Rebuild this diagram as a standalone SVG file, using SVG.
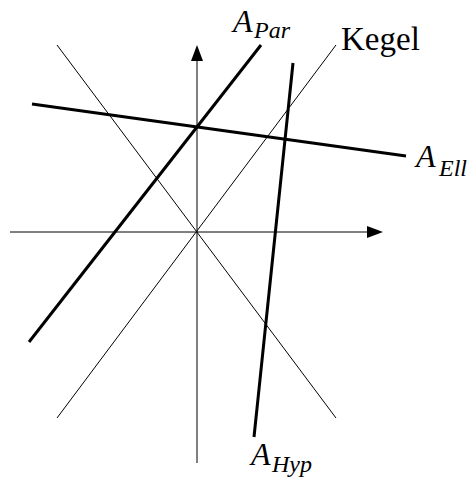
<svg xmlns="http://www.w3.org/2000/svg" width="472" height="479" viewBox="0 0 472 479">
<style>
.thin{stroke:#000;stroke-width:1;fill:none}
.thick{stroke:#000;stroke-width:3;fill:none}
.lbl{font-family:"Liberation Serif","Times New Roman",serif;fill:#000}
.it{font-style:italic}
</style>
<defs>
<marker id="arr" viewBox="0 0 16 12" refX="0" refY="6" markerWidth="16" markerHeight="12" markerUnits="userSpaceOnUse" orient="auto">
<path d="M0,0 L16,6 L0,12 Z" fill="#000"/>
</marker>
</defs>
<rect width="472" height="479" fill="#fff"/>
<g id="connectors">
<line id="x-axis" class="thin" x1="10" y1="232" x2="367" y2="232" marker-end="url(#arr)"/>
<line id="y-axis" class="thin" x1="197" y1="463" x2="197" y2="61" marker-end="url(#arr)"/>
<line id="kegel1" class="thin" x1="57" y1="45" x2="336" y2="418"/>
<line id="kegel2" class="thin" x1="57" y1="418" x2="336" y2="45"/>
<line id="apar" class="thick" x1="29" y1="342" x2="261" y2="45"/>
<line id="ahyp" class="thick" x1="293" y1="63" x2="254" y2="437"/>
<line id="aell" class="thick" x1="32" y1="104" x2="406" y2="156"/>
</g>
<g id="label-apar">
<text class="lbl it" x="233" y="32" font-size="32">A</text>
<text class="lbl it" x="254" y="38" font-size="24">Par</text>
</g>
<g id="label-kegel">
<text class="lbl" x="341" y="50" font-size="33">Kegel</text>
</g>
<g id="label-aell">
<text class="lbl it" x="416" y="167" font-size="32">A</text>
<text class="lbl it" x="439" y="176" font-size="24">Ell</text>
</g>
<g id="label-ahyp">
<text class="lbl it" x="251" y="465" font-size="32">A</text>
<text class="lbl it" x="272" y="472" font-size="24">Hyp</text>
</g>
</svg>
